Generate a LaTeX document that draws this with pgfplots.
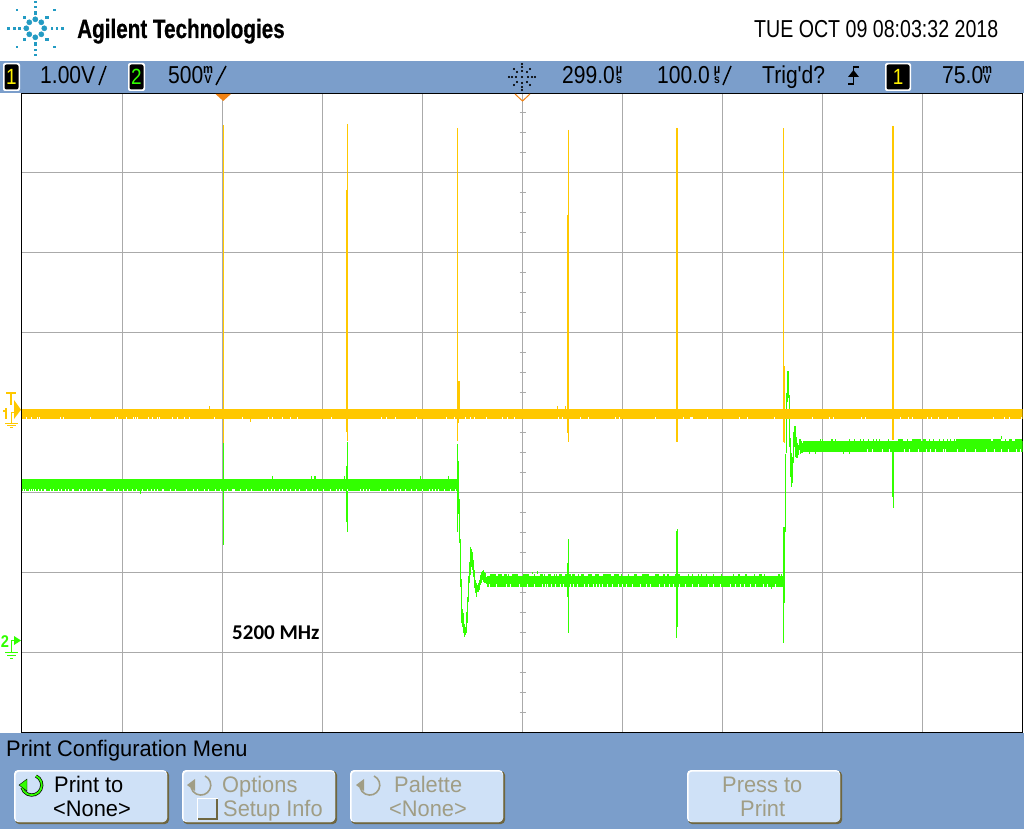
\documentclass[border=0pt]{standalone}
\usepackage{pgfplots}
\usepackage{pgfplotstable}
\usepackage{fontspec}
\pgfplotsset{compat=1.18}
\newfontfamily\scopefont[FakeStretch=0.86]{Liberation Sans}
\newfontfamily\datefont[FakeStretch=0.80]{Liberation Sans}
\newfontfamily\menufont[FakeStretch=0.97]{Liberation Sans}
\newfontfamily\logofont[FakeStretch=0.78,FakeBold=0.6]{Liberation Sans}
\newfontfamily\notefont{Carlito}

\definecolor{chone}{RGB}{255,200,0}
\definecolor{chtwo}{RGB}{50,255,0}
\definecolor{panel}{RGB}{123,158,203}
\definecolor{btn}{RGB}{207,225,247}
\definecolor{btnedge}{RGB}{110,102,64}
\definecolor{dimtext}{RGB}{160,157,133}
\definecolor{gridc}{RGB}{170,170,170}
\definecolor{spark}{RGB}{35,155,195}
\definecolor{trigmark}{RGB}{240,130,20}

% spikes and transients: pixel column, top row, bottom row
\pgfplotstableread{
x lo hi
223 443 545
347 442 466
346 466 522
347 466 532
457 444 532
458 461 514
459 499 543
460 539 587
461 579 623
462 609 627
463 613 633
464 624 637
465 627 635
466 612 633
467 597 623
468 576 602
469 562 583
470 547 575
471 549 567
472 552 570
473 560 577
474 570 588
475 580 593
476 583 597
477 585 592
478 583 592
479 580 590
480 575 585
481 572 583
482 571 580
483 570 582
484 572 583
485 573 583
486 577 587
567 563 597
568 539 633
676 531 638
677 529 627
783 527 643
784 527 603
785 454 532
786 393 453
787 371 402
788 371 398
789 395 447
790 438 477
791 453 487
792 457 483
793 432 463
794 426 447
795 426 457
796 437 458
797 443 458
798 445 455
799 439 450
800 439 454
801 441 453
802 443 453
892 452 497
893 452 508
140 491 494
272 476 479
311 476 479
314 476 479
315 476 479
344 476 479
420 476 479
448 476 479
771 587 589
809 452 454
815 452 454
843 452 454
849 452 454
1001 436 439
532 572 574
537 571 574
}\greenspans

\pgfplotstableread{
x lo hi
223 125 443
347 124 190
346 190 432
347 190 441
457 128 441
458 381 423
459 381 409
568 130 442
567 215 433
676 128 442
677 128 442
783 128 442
784 366 443
892 126 440
893 126 440
209 406 409
557 406 409
565 406 409
250 419 422
}\yellowspans

% white gaps along the lower edge of each band
\pgfplotstableread[row sep=\\]{x\\ 26\\ 31\\ 37\\ 39\\ 60\\ 63\\ 90\\ 115\\ 117\\ 126\\ 133\\ 135\\ 137\\ 148\\ 152\\ 157\\ 159\\ 172\\ 177\\ 184\\ 189\\ 214\\ 242\\ 268\\ 272\\ 282\\ 290\\ 297\\ 331\\ 381\\ 386\\ 395\\ 416\\ 446\\ 454\\ 465\\ 470\\ 474\\ 486\\ 502\\ 507\\ 514\\ 558\\ 562\\ 580\\ 588\\ 615\\ 619\\ 655\\ 683\\ 690\\ 691\\ 692\\ 707\\ 739\\ 747\\ 774\\ 812\\ 829\\ 833\\ 861\\ 865\\ 900\\ 908\\ 912\\ 927\\ 931\\ 938\\ 947\\ 958\\ 993\\ 1004\\ 1009\\ 1021\\}\yellowgaps

\pgfplotstableread[row sep=\\]{x\\ 23\\ 25\\ 29\\ 31\\ 33\\ 35\\ 38\\ 41\\ 44\\ 45\\ 50\\ 53\\ 58\\ 61\\ 65\\ 68\\ 72\\ 73\\ 79\\ 82\\ 86\\ 91\\ 94\\ 98\\ 103\\ 104\\ 105\\ 114\\ 118\\ 123\\ 127\\ 132\\ 136\\ 142\\ 147\\ 151\\ 154\\ 157\\ 162\\ 163\\ 170\\ 175\\ 186\\ 193\\ 197\\ 204\\ 208\\ 215\\ 220\\ 227\\ 232\\ 233\\ 234\\ 240\\ 246\\ 251\\ 263\\ 267\\ 271\\ 274\\ 279\\ 282\\ 286\\ 290\\ 295\\ 299\\ 306\\ 312\\ 317\\ 323\\ 330\\ 336\\ 339\\ 342\\ 347\\ 360\\ 363\\ 366\\ 369\\ 380\\ 387\\ 394\\ 397\\ 400\\ 405\\ 411\\ 416\\ 422\\ 429\\ 432\\ 435\\ 438\\ 444\\ 450\\ 455\\}\greengapsa

\pgfplotstableread[row sep=\\]{x\\ 486\\ 489\\ 496\\ 506\\ 510\\ 519\\ 527\\ 534\\ 542\\ 545\\ 547\\ 551\\ 555\\ 560\\ 563\\ 570\\ 573\\ 577\\ 584\\ 588\\ 593\\ 596\\ 599\\ 602\\ 607\\ 612\\ 618\\ 622\\ 626\\ 632\\ 640\\ 646\\ 650\\ 659\\ 664\\ 669\\ 673\\ 679\\ 685\\ 692\\ 698\\ 708\\ 713\\ 720\\ 730\\ 735\\ 740\\ 744\\ 750\\ 755\\ 763\\ 767\\ 775\\}\greengapsb

\pgfplotstableread[row sep=\\]{x\\ 867\\ 872\\ 882\\ 889\\ 904\\ 909\\ 918\\ 926\\ 930\\ 935\\ 943\\ 945\\ 957\\ 965\\ 975\\ 986\\ 994\\ 1001\\ 1008\\ 1016\\ 1020\\}\greengapsc

% green teeth standing above the second and third levels
\pgfplotstableread[row sep=\\]{x\\ 490\\ 491\\ 492\\ 493\\ 494\\ 495\\ 498\\ 499\\ 500\\ 501\\ 504\\ 505\\ 506\\ 508\\ 512\\ 513\\ 514\\ 515\\ 516\\ 517\\ 523\\ 524\\ 525\\ 526\\ 527\\ 528\\ 534\\ 540\\ 541\\ 542\\ 544\\ 548\\ 549\\ 550\\ 554\\ 556\\ 559\\ 560\\ 561\\ 565\\ 566\\ 567\\ 568\\ 569\\ 570\\ 572\\ 573\\ 574\\ 578\\ 581\\ 582\\ 583\\ 588\\ 589\\ 590\\ 591\\ 595\\ 596\\ 597\\ 598\\ 603\\ 604\\ 605\\ 606\\ 607\\ 608\\ 609\\ 610\\ 614\\ 615\\ 616\\ 617\\ 618\\ 621\\ 628\\ 634\\ 635\\ 636\\ 642\\ 643\\ 644\\ 645\\ 646\\ 647\\ 648\\ 655\\ 656\\ 657\\ 658\\ 663\\ 664\\ 667\\ 668\\ 675\\ 676\\ 677\\ 678\\ 679\\ 688\\ 692\\ 698\\ 701\\ 706\\ 713\\ 721\\ 733\\ 738\\ 739\\ 745\\ 746\\ 754\\ 759\\ 760\\ 761\\ 764\\ 778\\ 779\\ 781\\}\teethb

\pgfplotstableread[row sep=\\]{x\\ 820\\ 822\\ 831\\ 832\\ 835\\ 849\\ 854\\ 860\\ 863\\ 868\\ 873\\ 876\\ 879\\ 888\\ 898\\ 899\\ 900\\ 901\\ 902\\ 907\\ 912\\ 913\\ 914\\ 915\\ 916\\ 917\\ 918\\ 919\\ 920\\ 923\\ 924\\ 925\\ 929\\ 933\\ 939\\ 943\\ 947\\ 950\\ 954\\ 993\\ 994\\ 995\\ 996\\ 997\\ 998\\ 999\\ 1000\\ 1005\\ 1009\\ 1010\\ 1011\\ 1015\\ 1016\\ 1017\\ 1018\\ 1019\\ 1020\\ 1021\\}\teethc

\pgfplotsset{
  span/.style={draw=none, mark=none, forget plot,
    error bars/.cd, y dir=plus, y explicit, error mark=none,
    error bar style={draw=#1, line width=1pt, solid}},
}
\newcommand\spans[2]{\addplot[span=#1] table[x expr=\thisrow{x}+0.5, y=lo,
  y error expr=\thisrow{hi}-\thisrow{lo}] {#2};}
\newcommand\teeth[4]{\addplot[span=#1] table[x expr=\thisrow{x}+0.5, y index=0, y expr=#2,
  y error expr=#3-#2] {#4};}
% text in screen pixels: x, baseline y, size, content
\newcommand\txt[4]{\node[anchor=base west, inner sep=0pt, font=\scopefont\fontsize{#3}{#3}\selectfont] at (axis cs:#1,#2) {#4};}
\newcommand\menutxt[3]{\node[anchor=base west, inner sep=0pt, font=\menufont\fontsize{22.5}{22.5}\selectfont] at (axis cs:#1,#2) {#3};}
\newcommand\dimtxt[3]{\node[text=dimtext, anchor=base west, inner sep=0pt, font=\menufont\fontsize{22.5}{22.5}\selectfont] at (axis cs:#1,#2) {#3};}
% stacked unit: centre x, baseline y, upper and lower letter
\newcommand\stk[4]{%
  \node[anchor=base, inner sep=0pt, font=\scopefont\bfseries\fontsize{13}{13}\selectfont] at (axis cs:#1,#2-10) {#3};
  \node[anchor=base, inner sep=0pt, font=\scopefont\bfseries\fontsize{12}{12}\selectfont] at (axis cs:#1,#2) {#4};}
\newcommand\perline[2]{\draw[black, line width=1.5pt] (axis cs:#1,85) -- (axis cs:#2,66);}
\newcommand\chbox[4]{%
  \fill[rounded corners=2pt, white] (axis cs:#1,63) rectangle (axis cs:#2,91);
  \fill[rounded corners=2pt, black] (axis cs:#1+1.5,64.5) rectangle (axis cs:#2-1.5,89.5);
  \node[text=#3, inner sep=0pt, anchor=base, font=\scopefont\fontsize{22}{22}\selectfont] at (axis cs:#1/2+#2/2,85) {#4};}
\newcommand\button[2]{%
  \fill[rounded corners=4pt, btnedge] (axis cs:#1+1,771) rectangle (axis cs:#2,824);
  \fill[rounded corners=4pt, white] (axis cs:#1,770) rectangle (axis cs:#2-2,822);
  \fill[rounded corners=4pt, btn] (axis cs:#1+1.5,771.5) rectangle (axis cs:#2-2,822);}
\newcommand\turn[2]{%
  \draw[dimtext, line width=1.6pt] (axis cs:#1+5,#2-9) arc[start angle=65, end angle=-165, radius=10pt];
  \fill[dimtext] (axis cs:#1-13,#2) -- (axis cs:#1-5,#2-6) -- (axis cs:#1-5,#2+6) -- cycle;}

\begin{document}
\begin{tikzpicture}[x=1pt,y=1pt]
% instrument frame, in image pixels
\begin{axis}[
  at={(0pt,0pt)}, anchor=south west,
  scale only axis, width=1024pt, height=829pt,
  xmin=0, xmax=1024, ymin=0, ymax=829, y dir=reverse,
  axis lines=none, clip=false,
]
\fill[white] (axis cs:0,0) rectangle (axis cs:1024,829);
\fill[panel] (axis cs:0,61) rectangle (axis cs:1024,93);
\fill[panel] (axis cs:0,733) rectangle (axis cs:1024,829);

% logo
\addplot[only marks, mark=*, mark size=2.6pt, spark, mark options={draw=none, fill=spark}] coordinates {
  (35.3,19.3) (29.3,22.3) (41.3,22.3) (26.3,28.3) (44.3,28.3) (29.3,34.3) (41.3,34.3) (35.3,37.3)};
\addplot[only marks, mark=square*, mark size=1.3pt, spark, mark options={draw=none, fill=spark}] coordinates {
  (24,17.3) (46.7,17.3) (24,39.3) (46.7,39.3) (35.3,12.7) (35.3,44)};
\addplot[only marks, mark=square*, mark size=0.7pt, spark, mark options={draw=none, fill=spark}] coordinates {
  (19.3,28.3) (51.7,28.3) (16.7,10) (54.3,10) (16.7,46.7) (54.3,46.7) (35.3,1.7) (35.3,6.7)
  (35.3,50) (35.3,55) (8.3,28.3) (14,28.3) (56.7,28.3) (62.3,28.3)};
\node[anchor=base west, inner sep=0pt, font=\logofont\bfseries\fontsize{26.5}{26.5}\selectfont] at (axis cs:77,38) {Agilent Technologies};
\node[anchor=base west, inner sep=0pt, font=\datefont\fontsize{24.5}{24.5}\selectfont] at (axis cs:754,38) {TUE OCT 09 08:03:32 2018};

% status line
\chbox{3}{20}{yellow}{1}
\chbox{128}{145}{chtwo}{2}
\chbox{885}{911}{yellow}{1}
\txt{40}{84}{24.5}{1.00V}
\perline{99}{106}
\txt{168}{84}{24.5}{500}
\stk{208}{84}{m}{V}
\perline{216}{226}
\addplot[only marks, mark=*, mark size=0.8pt, black, mark options={draw=none, fill=black}] coordinates {
  (522,64) (522,67) (522,71) (522,83) (522,87) (522,90) (509,77) (512,77) (516,77) (528,77) (532,77) (535,77)
  (514,69) (517,72) (530,69) (527,72) (514,85) (517,82) (530,85) (527,82) (522,77)};
\txt{562}{84}{24.5}{299.0}
\stk{619}{84}{\textmu}{s}
\txt{657}{84}{24.5}{100.0}
\stk{717}{84}{\textmu}{s}
\perline{723}{731}
\txt{762}{84}{24.5}{Trig'd?}
\draw[black, line width=1.6pt] (axis cs:848,84) -- (axis cs:853.5,84) -- (axis cs:853.5,67) -- (axis cs:859,67);
\fill[black] (axis cs:848,77) -- (axis cs:859,77) -- (axis cs:853.5,70) -- cycle;
\txt{942}{84}{24.5}{75.0}
\stk{987}{84}{m}{V}

% menu
\menutxt{6}{756}{Print Configuration Menu}
\button{14}{169}
\button{182}{337}
\button{350}{505}
\button{687}{842}
\draw[black, line width=3.2pt] (axis cs:36,776) arc[start angle=65, end angle=-165, radius=10pt];
\draw[chtwo, line width=1.8pt] (axis cs:36,776) arc[start angle=65, end angle=-165, radius=10pt];
\fill[chtwo, draw=black] (axis cs:19,785) -- (axis cs:27,779) -- (axis cs:27,791) -- cycle;
\turn{200}{785}
\turn{369}{785}
\fill[white] (axis cs:197,798) rectangle (axis cs:218,820);
\fill[btnedge] (axis cs:198,799) rectangle (axis cs:218,820);
\fill[btn] (axis cs:198,799) rectangle (axis cs:216,818);
\menutxt{54}{792}{Print to}
\menutxt{53}{816}{<None>}
\dimtxt{222}{792}{Options}
\dimtxt{223}{816}{Setup Info}
\dimtxt{394}{792}{Palette}
\dimtxt{389}{816}{<None>}
\dimtxt{722}{792}{Press to}
\dimtxt{740}{816}{Print}

% level markers left of the screen
\fill[chone] (axis cs:6,392) rectangle (axis cs:16,394);
\fill[chone] (axis cs:10,392) rectangle (axis cs:12,405);
\fill[chone] (axis cs:14,400) -- (axis cs:21,409.7) -- (axis cs:14,419) -- cycle;
\fill[chone] (axis cs:5,408) rectangle (axis cs:7,419);
\fill[chone] (axis cs:3,410) rectangle (axis cs:5,412);
\draw[chone, line width=1pt] (axis cs:14,412.5) -- (axis cs:11.5,412.5) -- (axis cs:11.5,423.5);
\draw[chone, line width=1pt] (axis cs:5,423.5) -- (axis cs:18,423.5) (axis cs:7,425.5) -- (axis cs:16,425.5) (axis cs:10,427.5) -- (axis cs:13,427.5);
\node[text=chtwo, anchor=base, inner sep=0pt, font=\scopefont\bfseries\fontsize{17}{17}\selectfont] at (axis cs:5,647) {2};
\fill[chtwo] (axis cs:14,636) -- (axis cs:21,640.5) -- (axis cs:14,645) -- cycle;
\draw[chtwo, line width=1pt] (axis cs:14,640.5) -- (axis cs:11.5,640.5) -- (axis cs:11.5,652.5);
\draw[chtwo, line width=1pt] (axis cs:5,652.5) -- (axis cs:18,652.5) (axis cs:7,655.5) -- (axis cs:16,655.5) (axis cs:10,658) -- (axis cs:13,658);
\end{axis}

% the scope screen, in the same pixel numbers
\begin{axis}[
  at={(21.5pt,96.5pt)}, anchor=south west,
  scale only axis, width=1001pt, height=639pt,
  xmin=21.5, xmax=1022.5, ymin=93.5, ymax=732.5, y dir=reverse,
  xtick={122.5,222.5,322.5,422.5,522.5,622.5,722.5,822.5,922.5},
  ytick={172.5,252.5,332.5,412.5,492.5,572.5,652.5},
  xticklabels={}, yticklabels={},
  major tick length=0pt,
  grid=major, grid style={gridc, line width=1pt, solid},
  axis line style={black, line width=1.2pt},
]
\pgfplotsinvokeforeach{112.5,132.5,152.5,192.5,212.5,232.5,272.5,292.5,312.5,352.5,372.5,392.5,432.5,452.5,472.5,512.5,532.5,552.5,592.5,612.5,632.5,672.5,692.5,712.5}{
  \draw[gridc, line width=1pt] (axis cs:519.5,#1) -- (axis cs:525.5,#1);}

% channel 2
\addplot[chtwo, line width=12pt, forget plot] coordinates {(21.5,485) (458,485)};
\addplot[chtwo, line width=11pt, forget plot] coordinates {(487,581.5) (784,581.5)};
\addplot[chtwo, line width=11pt, forget plot] coordinates {(803,446.5) (1022.5,446.5)};
\addplot[chtwo, line width=2pt, forget plot] coordinates {(956,440) (991,440)};
\spans{chtwo}{\greenspans}
\teeth{chtwo}{574}{576}{\teethb}
\teeth{chtwo}{439}{441}{\teethc}
\teeth{white}{489}{491}{\greengapsa}
\teeth{white}{584}{587}{\greengapsb}
\teeth{white}{449}{452}{\greengapsc}

% channel 1
\addplot[chone, line width=10pt, forget plot] coordinates {(21.5,414) (1022.5,414)};
\spans{chone}{\yellowspans}
\teeth{white}{417}{419}{\yellowgaps}
\end{axis}

% trigger markers and note sit over the screen
\begin{axis}[
  at={(0pt,0pt)}, anchor=south west,
  scale only axis, width=1024pt, height=829pt,
  xmin=0, xmax=1024, ymin=0, ymax=829, y dir=reverse,
  axis lines=none, clip=false,
]
\fill[trigmark] (axis cs:215.5,94) -- (axis cs:231,94) -- (axis cs:223.2,101) -- cycle;
\draw[trigmark, line width=1pt] (axis cs:515,94) -- (axis cs:522.5,101) -- (axis cs:530,94);
\node[anchor=base west, inner sep=0pt, font=\notefont\bfseries\fontsize{21}{21}\selectfont] at (axis cs:232,639) {5200 MHz};
\end{axis}
\end{tikzpicture}
\end{document}
